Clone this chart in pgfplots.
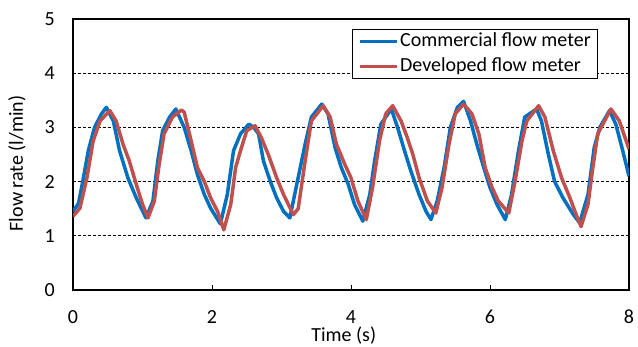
\documentclass[border=0pt]{standalone}
\usepackage{fontspec}
\setmainfont{Carlito}
\usepackage{pgfplots}
\pgfplotsset{compat=1.18}
\definecolor{cblue}{RGB}{0,112,192}
\definecolor{cred}{RGB}{192,80,77}
\begin{document}
\begin{tikzpicture}[font=\fontsize{20bp}{24bp}\selectfont]
\path[use as bounding box] (0,0) rectangle (638bp,347bp);
\begin{axis}[
  at={(73bp,57bp)}, anchor=south west,
  scale only axis, width=556bp, height=271bp,
  xmin=0, xmax=8, ymin=0, ymax=5,
  xtick={0,2,4,6,8}, ytick={0,1,2,3,4,5},
  /pgf/number format/assume math mode=true,
  ymajorgrids, grid style={densely dashed, black, line width=0.7pt},
  axis line style={black, line width=1.1pt},
  xtick pos=bottom, tick align=inside, major tick length=5bp,
  xtick style={black, line width=0.8pt},
  ytick style={draw=none},
  yticklabel style={inner sep=0pt, anchor=east, xshift=-18bp},
  xticklabel style={inner sep=0pt, anchor=north, yshift=-20bp},
  ylabel={Flow rate (l/min)},
  xlabel={Time (s)},
  ylabel style={at={(axis description cs:-0.1007,0.467)}, anchor=center, inner sep=0pt},
  xlabel style={at={(axis description cs:0.487,-0.17)}, anchor=center, inner sep=0pt},
  legend image code/.code={\draw[#1] (0bp,0bp) -- (37bp,0bp);},
  legend style={at={(0.502,0.963)}, anchor=north west, draw=black, line width=1pt, fill=white,
    inner xsep=6bp, inner ysep=1bp, row sep=3bp,
    nodes={inner sep=1bp, text height=15bp, text depth=5bp}, font=\fontsize{20bp}{24bp}\selectfont},
  legend cell align=left,
]
\addplot[cblue, line width=3.5bp, line join=round] coordinates {
(0,1.45) (0.08,1.6) (0.15,2.07) (0.22,2.57) (0.31,3.0) (0.41,3.25) (0.48,3.37) (0.58,3.12) (0.67,2.57) (0.79,2.07) (0.91,1.7) (1.05,1.33) (1.15,1.64) (1.22,2.38) (1.29,2.94) (1.39,3.19) (1.48,3.34) (1.6,3.0) (1.7,2.57) (1.79,2.13) (1.89,1.76) (1.98,1.51) (2.12,1.22) (2.22,1.76) (2.31,2.57) (2.41,2.88) (2.53,3.06) (2.6,3.0) (2.67,2.88) (2.74,2.38) (2.84,2.0) (2.93,1.7) (3.03,1.45) (3.12,1.33) (3.22,1.95) (3.34,2.69) (3.43,3.19) (3.58,3.43) (3.67,3.25) (3.77,2.63) (3.86,2.26) (3.96,1.95) (4.05,1.58) (4.17,1.27) (4.27,1.76) (4.34,2.38) (4.43,3.06) (4.58,3.34) (4.67,3.0) (4.77,2.57) (4.86,2.2) (4.98,1.76) (5.08,1.45) (5.15,1.3) (5.24,1.64) (5.34,2.26) (5.43,3.0) (5.53,3.37) (5.62,3.48) (5.72,3.12) (5.81,2.69) (5.91,2.26) (6.0,1.89) (6.1,1.58) (6.22,1.3) (6.31,1.76) (6.41,2.57) (6.5,3.19) (6.67,3.34) (6.74,3.12) (6.84,2.5) (6.93,2.0) (7.05,1.7) (7.2,1.39) (7.29,1.24) (7.41,1.76) (7.5,2.63) (7.58,3.0) (7.72,3.31) (7.81,3.06) (7.91,2.57) (8.0,2.1)
};
\addlegendentry{Commercial flow meter}
\addplot[cred, line width=3.5bp, line join=round] coordinates {
(0,1.36) (0.1,1.51) (0.2,2.07) (0.29,2.75) (0.39,3.12) (0.53,3.31) (0.62,3.12) (0.72,2.69) (0.81,2.38) (0.91,1.95) (1.0,1.58) (1.08,1.33) (1.17,1.64) (1.24,2.32) (1.31,2.88) (1.43,3.19) (1.56,3.32) (1.6,3.28) (1.7,2.75) (1.79,2.26) (1.89,2.0) (1.98,1.7) (2.08,1.45) (2.17,1.11) (2.27,1.58) (2.34,2.26) (2.41,2.57) (2.5,2.94) (2.62,3.03) (2.71,2.81) (2.81,2.5) (2.93,2.07) (3.03,1.76) (3.17,1.39) (3.24,1.5) (3.34,2.38) (3.43,3.12) (3.6,3.4) (3.7,3.19) (3.79,2.69) (3.91,2.32) (4.0,2.07) (4.1,1.64) (4.22,1.3) (4.31,1.89) (4.41,2.75) (4.5,3.25) (4.6,3.4) (4.72,3.12) (4.81,2.81) (4.89,2.5) (4.98,2.07) (5.1,1.64) (5.22,1.42) (5.31,1.89) (5.41,2.69) (5.5,3.25) (5.62,3.43) (5.74,3.25) (5.84,2.88) (5.93,2.26) (6.03,1.89) (6.12,1.64) (6.27,1.42) (6.36,2.0) (6.46,2.75) (6.53,3.12) (6.7,3.4) (6.79,3.19) (6.91,2.57) (7.03,2.07) (7.15,1.7) (7.24,1.39) (7.31,1.17) (7.41,1.58) (7.48,2.26) (7.55,2.88) (7.74,3.34) (7.86,3.12) (8.0,2.6)
};
\addlegendentry{Developed flow meter}
\end{axis}
\end{tikzpicture}
\end{document}
